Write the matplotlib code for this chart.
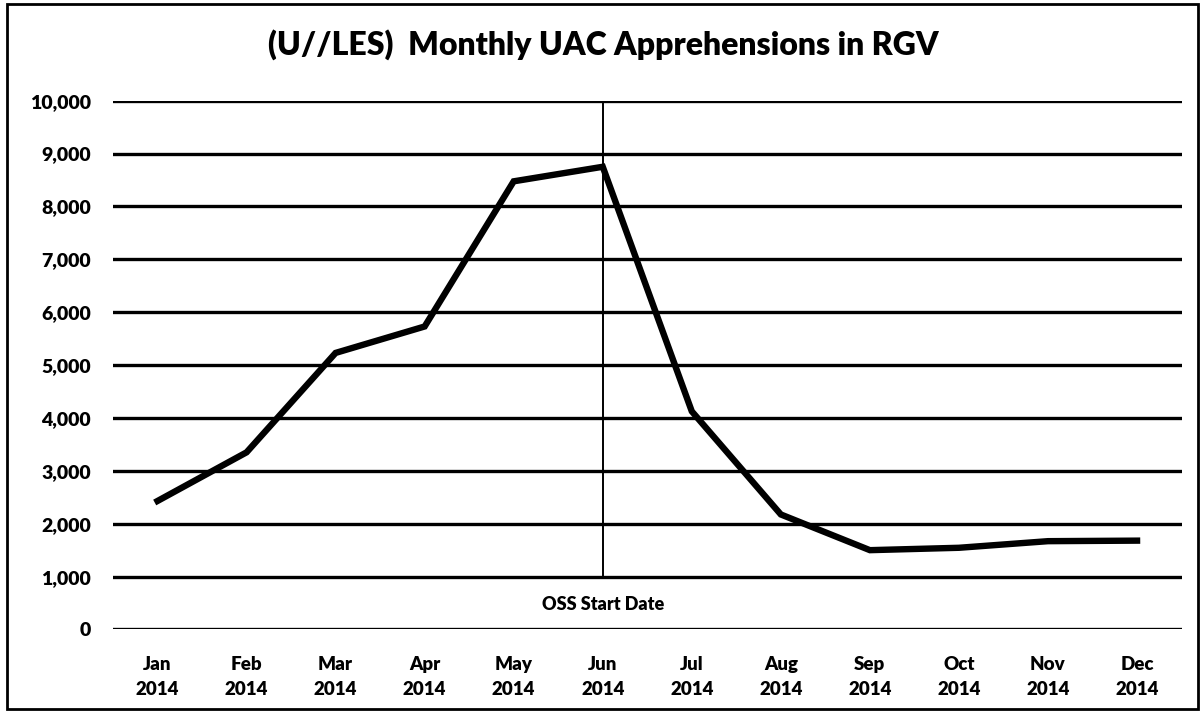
import matplotlib
matplotlib.use("Agg")
import matplotlib.pyplot as plt
from matplotlib.patches import Rectangle

months = ["Jan", "Feb", "Mar", "Apr", "May", "Jun", "Jul", "Aug", "Sep", "Oct", "Nov", "Dec"]
year = "2014"
apprehensions = [2430, 3350, 5230, 5730, 8475, 8750, 4125, 2175, 1500, 1545, 1670, 1680]
y_ticks = list(range(0, 10001, 1000))
title = "(U//LES)  Monthly UAC Apprehensions in RGV"
marker_month = "Jun"
marker_label = "OSS Start Date"

plt.rcParams['font.family'] = ['Lato', 'DejaVu Sans']
fig = plt.figure(figsize=(12.02, 7.12), dpi=100)
ax = fig.add_axes([0.094, 0.1159, 0.889, 0.7427])

x = list(range(len(months)))
ax.set_xlim(-0.5, len(months) - 0.5)
ax.set_ylim(0, 10000)

for v in y_ticks:
    ax.axhline(v, color='black', lw=2.4, zorder=1)

xi = months.index(marker_month)
ax.plot([xi, xi], [1000, 9930], color='black', lw=1.4, zorder=2)
ax.text(xi, 480, marker_label, ha='center', va='center', fontsize=13, fontweight='heavy')

ax.plot(x, apprehensions, color='black', lw=4.6, solid_joinstyle='miter', zorder=3)

ax.set_yticks(y_ticks)
ax.set_yticklabels([f"{v:,}" for v in y_ticks], fontsize=14, fontweight='heavy')
ax.set_xticks(x)
ax.set_xticklabels([f"{m}\n{year}" for m in months], fontsize=13.5, fontweight='heavy', linespacing=1.55)
ax.tick_params(axis='both', length=0)
ax.tick_params(axis='y', pad=16)
ax.tick_params(axis='x', pad=19)
for s in ax.spines.values():
    s.set_visible(False)

fig.text(0.502, 0.937, title, ha='center', va='center', fontsize=23, fontweight='heavy')
fig.patches.append(Rectangle((0.006, 0.004), 0.991, 0.99, transform=fig.transFigure,
                             fill=False, edgecolor='black', lw=2))

fig.savefig("out.png", dpi=100)
